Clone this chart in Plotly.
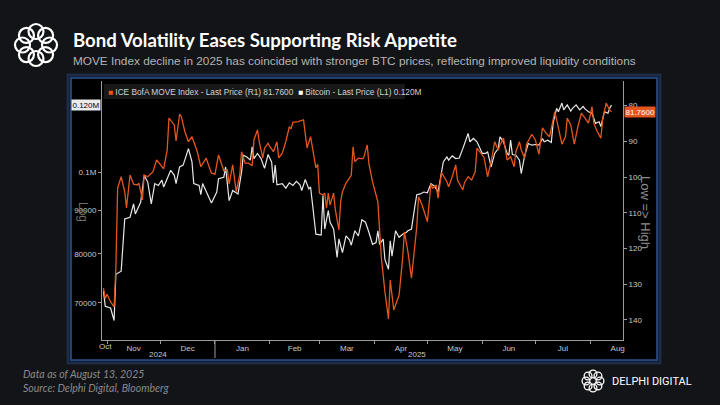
import math
import plotly.graph_objects as go

# ---------------- data ----------------
btc_dates = [
    "2024-10-30", "2024-10-31", "2024-11-03", "2024-11-05", "2024-11-06", "2024-11-09", "2024-11-11",
    "2024-11-14", "2024-11-16", "2024-11-17", "2024-11-20", "2024-11-22", "2024-11-24", "2024-11-26",
    "2024-11-28", "2024-11-30", "2024-12-02", "2024-12-03", "2024-12-07", "2024-12-09", "2024-12-10",
    "2024-12-12", "2024-12-14", "2024-12-17", "2024-12-19", "2024-12-20", "2024-12-23", "2024-12-24",
    "2024-12-25", "2024-12-27", "2024-12-30", "2025-01-02", "2025-01-03", "2025-01-06", "2025-01-07",
    "2025-01-09", "2025-01-11", "2025-01-14", "2025-01-16", "2025-01-17", "2025-01-19", "2025-01-21",
    "2025-01-22", "2025-01-23", "2025-01-25", "2025-01-27", "2025-01-29", "2025-01-31", "2025-02-02",
    "2025-02-03", "2025-02-04", "2025-02-05", "2025-02-08", "2025-02-10", "2025-02-12", "2025-02-14",
    "2025-02-16", "2025-02-18", "2025-02-19", "2025-02-21", "2025-02-23", "2025-02-24", "2025-02-26",
    "2025-02-27", "2025-03-02", "2025-03-03", "2025-03-04", "2025-03-06", "2025-03-07", "2025-03-09",
    "2025-03-11", "2025-03-12", "2025-03-14", "2025-03-16", "2025-03-18", "2025-03-19", "2025-03-21",
    "2025-03-23", "2025-03-25", "2025-03-27", "2025-03-29", "2025-03-31", "2025-04-02", "2025-04-03",
    "2025-04-04", "2025-04-06", "2025-04-07", "2025-04-09", "2025-04-10", "2025-04-11", "2025-04-13",
    "2025-04-15", "2025-04-17", "2025-04-19", "2025-04-20", "2025-04-22", "2025-04-24", "2025-04-25",
    "2025-04-27", "2025-04-29", "2025-05-01", "2025-05-03", "2025-05-05", "2025-05-07", "2025-05-10",
    "2025-05-12", "2025-05-13", "2025-05-15", "2025-05-17", "2025-05-19", "2025-05-21", "2025-05-24",
    "2025-05-25", "2025-05-27", "2025-05-29", "2025-05-31", "2025-06-01", "2025-06-03", "2025-06-04",
    "2025-06-06", "2025-06-08", "2025-06-10", "2025-06-11", "2025-06-13", "2025-06-15", "2025-06-16",
    "2025-06-17", "2025-06-18", "2025-06-20", "2025-06-22", "2025-06-23", "2025-06-25", "2025-06-27",
    "2025-06-29", "2025-07-01", "2025-07-03", "2025-07-05", "2025-07-06", "2025-07-08", "2025-07-10",
    "2025-07-11", "2025-07-13", "2025-07-14", "2025-07-16", "2025-07-17", "2025-07-19", "2025-07-21",
    "2025-07-22", "2025-07-24", "2025-07-26", "2025-07-28", "2025-07-29", "2025-07-31", "2025-08-02",
    "2025-08-04", "2025-08-06", "2025-08-07", "2025-08-09", "2025-08-11", "2025-08-12", "2025-08-13",
]
btc_price = [
    72250, 69350, 69000, 66700, 75650, 76300, 88000,
    88400, 91700, 89200, 92100, 99100, 97300, 91700,
    96900, 96400, 97800, 96000, 100500, 99100, 96900,
    101400, 101900, 106600, 102800, 96900, 96400, 94000,
    96900, 94700, 91900, 94700, 98200, 98600, 101400,
    92500, 95100, 94200, 100000, 104700, 104200, 103300,
    107100, 103750, 105200, 103750, 101000, 104900, 102800,
    97100, 101900, 96600, 96900, 95700, 97100, 96400,
    97500, 96600, 95100, 98000, 95500, 96000, 88000,
    84400, 84200, 93800, 85600, 90000, 87200, 85600,
    79200, 83300, 80250, 84000, 83100, 81900, 85200,
    84000, 87800, 87200, 84800, 82100, 82500, 85200,
    82100, 83300, 78800, 76700, 82900, 79500, 85200,
    83700, 84400, 84800, 85200, 85600, 91300, 94000,
    94200, 94700, 94500, 96900, 96200, 94700, 102800,
    104200, 103300, 104500, 103750, 103900, 106600, 111100,
    108600, 109600, 108600, 106100, 105200, 105200, 105700,
    101400, 105200, 106600, 110100, 108600, 105200, 104700,
    109100, 104900, 104700, 103300, 99600, 104700, 108100,
    107600, 107800, 107600, 109600, 108600, 109100, 108400,
    114200, 119000, 117900, 120700, 118500, 120100, 118100,
    119000, 120100, 118500, 119600, 118800, 117900, 117400,
    114200, 114700, 113200, 117900, 117400, 119000, 120100,
]

move_dates = [
    "2024-10-30", "2024-10-31", "2024-11-01", "2024-11-03", "2024-11-05", "2024-11-06", "2024-11-07",
    "2024-11-09", "2024-11-11", "2024-11-12", "2024-11-14", "2024-11-16", "2024-11-18", "2024-11-19",
    "2024-11-21", "2024-11-22", "2024-11-24", "2024-11-27", "2024-11-29", "2024-12-01", "2024-12-03",
    "2024-12-05", "2024-12-06", "2024-12-09", "2024-12-10", "2024-12-12", "2024-12-13", "2024-12-15",
    "2024-12-17", "2024-12-19", "2024-12-22", "2024-12-24", "2024-12-27", "2024-12-30", "2025-01-01",
    "2025-01-03", "2025-01-06", "2025-01-08", "2025-01-09", "2025-01-11", "2025-01-13", "2025-01-15",
    "2025-01-16", "2025-01-18", "2025-01-20", "2025-01-22", "2025-01-23", "2025-01-25", "2025-01-26",
    "2025-01-28", "2025-01-29", "2025-01-31", "2025-02-01", "2025-02-03", "2025-02-05", "2025-02-06",
    "2025-02-08", "2025-02-10", "2025-02-12", "2025-02-13", "2025-02-14", "2025-02-17", "2025-02-20",
    "2025-02-22", "2025-02-24", "2025-02-27", "2025-02-28", "2025-03-01", "2025-03-03", "2025-03-04",
    "2025-03-05", "2025-03-06", "2025-03-07", "2025-03-09", "2025-03-10", "2025-03-12", "2025-03-13",
    "2025-03-14", "2025-03-16", "2025-03-18", "2025-03-19", "2025-03-20", "2025-03-21", "2025-03-23",
    "2025-03-25", "2025-03-26", "2025-03-28", "2025-03-29", "2025-03-31", "2025-04-03", "2025-04-04",
    "2025-04-05", "2025-04-07", "2025-04-09", "2025-04-10", "2025-04-12", "2025-04-15", "2025-04-17",
    "2025-04-18", "2025-04-20", "2025-04-22", "2025-04-24", "2025-04-25", "2025-04-26", "2025-04-28",
    "2025-05-01", "2025-05-03", "2025-05-04", "2025-05-06", "2025-05-07", "2025-05-09", "2025-05-12",
    "2025-05-13", "2025-05-15", "2025-05-17", "2025-05-18", "2025-05-21", "2025-05-22", "2025-05-24",
    "2025-05-26", "2025-05-28", "2025-05-29", "2025-05-31", "2025-06-02", "2025-06-04", "2025-06-06",
    "2025-06-08", "2025-06-10", "2025-06-11", "2025-06-13", "2025-06-15", "2025-06-17", "2025-06-19",
    "2025-06-20", "2025-06-22", "2025-06-23", "2025-06-25", "2025-06-26", "2025-06-29", "2025-07-01",
    "2025-07-03", "2025-07-05", "2025-07-07", "2025-07-09", "2025-07-12", "2025-07-14", "2025-07-16",
    "2025-07-18", "2025-07-19", "2025-07-21", "2025-07-23", "2025-07-25", "2025-07-27", "2025-07-29",
    "2025-07-31", "2025-08-02", "2025-08-03", "2025-08-05", "2025-08-07", "2025-08-08", "2025-08-10",
    "2025-08-12", "2025-08-13",
]
move_index = [
    131.1, 134.0, 132.8, 134.9, 136.3, 125.5, 103.1,
    99.9, 104.1, 108.6, 99.4, 102.0, 102.2, 101.7,
    106.4, 99.4, 99.9, 98.5, 95.2, 96.6, 97.7,
    92.4, 83.5, 85.4, 89.9, 82.4, 83.1, 87.3,
    90.1, 88.7, 92.9, 97.1, 94.7, 98.9, 99.2,
    93.8, 98.3, 98.0, 102.0, 96.6, 104.1, 99.4,
    92.9, 96.1, 96.1, 96.8, 89.6, 86.8, 90.1,
    94.7, 91.9, 90.5, 91.5, 92.9, 90.1, 94.6,
    93.3, 90.1, 85.9, 86.5, 84.7, 84.5, 84.0,
    91.8, 88.7, 97.4, 96.4, 104.5, 105.0, 104.5,
    108.7, 104.5, 107.8, 104.5, 109.2, 114.8, 106.9,
    104.1, 101.7, 100.3, 99.4, 91.5, 95.7, 94.7,
    94.9, 94.6, 91.0, 96.4, 101.3, 106.9, 116.2,
    122.7, 132.1, 139.7, 128.8, 137.2, 133.0, 122.7,
    115.3, 120.9, 128.3, 118.1, 113.9, 105.5, 107.8,
    112.5, 102.0, 103.1, 102.2, 105.9, 98.7, 101.3,
    102.7, 99.9, 96.6, 100.8, 103.6, 101.5, 99.9,
    100.8, 98.5, 91.9, 93.3, 94.5, 99.9, 95.7,
    90.1, 92.4, 91.0, 89.1, 95.2, 94.3, 97.1,
    92.9, 90.1, 92.4, 94.7, 90.8, 88.0, 89.6,
    93.6, 86.2, 87.7, 88.7, 81.7, 86.8, 90.8,
    88.7, 83.5, 85.4, 90.8, 85.9, 82.1, 83.5,
    84.9, 80.3, 84.9, 87.3, 89.1, 84.0, 79.3,
    81.2, 81.76,
]

left_tick_vals = [70000, 80000, 90000, 100000]
left_tick_text = ["70000", "80000", "90000", "0.1M"]
right_tick_vals = [80, 90, 100, 110, 120, 130, 140]
year_labels = ["2024", "2025"]
year_label_dates = ["2024-11-30", "2025-04-25"]

move_name = "ICE BofA MOVE Index - Last Price (R1)"
btc_name = "Bitcoin - Last Price (L1)"

ORANGE = "#e4561d"
WHITE = "#e8e8e8"
AXIS = "#9c9c9c"
TICKTXT = "#c8c8c8"
BG = "#131417"
NARROW = "Liberation Sans Narrow, Liberation Sans, Arial"

# ---------------- layout geometry helpers (pixels -> paper) ----------------
W, H = 720, 405
ML, MR, MT, MB = 102, 97, 81, 65
PW, PH = W - ML - MR, H - MT - MB


def px(x):
    return (x - ML) / PW


def py(y):
    return (H - MB - y) / PH


fig = go.Figure()

fig.add_trace(go.Scatter(
    x=move_dates, y=move_index, name=move_name, mode="lines",
    line=dict(color=ORANGE, width=1.3), yaxis="y2", showlegend=False,
))
fig.add_trace(go.Scatter(
    x=btc_dates, y=btc_price, name=btc_name, mode="lines",
    line=dict(color=WHITE, width=1.2), yaxis="y", showlegend=False,
))

shapes = []
# chart panel with blue glowing frame
shapes.append(dict(type="rect", xref="paper", yref="paper", layer="below",
                   x0=px(69), x1=px(659), y0=py(362), y1=py(76),
                   line=dict(color="rgba(50,90,160,0.35)", width=5), fillcolor="black"))
shapes.append(dict(type="rect", xref="paper", yref="paper", layer="below",
                   x0=px(71), x1=px(657), y0=py(360), y1=py(78),
                   line=dict(color="#2c5290", width=1.5), fillcolor="black"))
# legend backdrop
shapes.append(dict(type="rect", xref="paper", yref="paper", layer="below",
                   x0=px(104), x1=px(405), y0=py(99), y1=py(84),
                   line=dict(width=0), fillcolor="#181818"))
# year divider on the time axis
shapes.append(dict(type="line", xref="x", yref="paper", x0="2025-01-01", x1="2025-01-01",
                   y0=0, y1=py(358), line=dict(color=AXIS, width=1)))


def logo(cx, cy, dist, r, lw):
    out = []
    n = 8
    for k in range(n):
        a = 2 * math.pi * k / n
        dx, dy = dist * math.cos(a), dist * math.sin(a)
        out.append(dict(type="circle", xref="paper", yref="paper",
                        xsizemode="pixel", ysizemode="pixel",
                        xanchor=px(cx), yanchor=py(cy),
                        x0=dx - r, x1=dx + r, y0=dy - r, y1=dy + r,
                        line=dict(color="white", width=lw)))
    return out


shapes += logo(36, 45, 13.5, 7.5, 2.2)
shapes += logo(593, 381, 7, 3.9, 1.3)

annotations = []
annotations.append(dict(text="<b>Bond Volatility Eases Supporting Risk Appetite</b>",
                        xref="paper", yref="paper", x=px(71), y=py(40),
                        xanchor="left", yanchor="middle", showarrow=False,
                        font=dict(family="Lato, Open Sans, sans-serif", size=18.6, color="white")))
annotations.append(dict(text="MOVE Index decline in 2025 has coincided with stronger BTC prices, "
                             "reflecting improved liquidity conditions",
                        xref="paper", yref="paper", x=px(71), y=py(61),
                        xanchor="left", yanchor="middle", showarrow=False,
                        font=dict(family="Liberation Sans, Arial", size=11.8, color="#b4b4b4")))
annotations.append(dict(text="<i>Data as of August 13, 2025</i>",
                        xref="paper", yref="paper", x=px(21), y=py(374),
                        xanchor="left", yanchor="middle", showarrow=False,
                        font=dict(family="Lato, sans-serif", size=10.5, color="#8a8a8a")))
annotations.append(dict(text="<i>Source: Delphi Digital, Bloomberg</i>",
                        xref="paper", yref="paper", x=px(21), y=py(388),
                        xanchor="left", yanchor="middle", showarrow=False,
                        font=dict(family="Lato, sans-serif", size=10.5, color="#8a8a8a")))
annotations.append(dict(text="DELPHI DIGITAL",
                        xref="paper", yref="paper", x=px(610), y=py(381),
                        xanchor="left", yanchor="middle", showarrow=False,
                        font=dict(family="Roboto, sans-serif", size=11, color="white")))

# legend line (Bloomberg style) with last values from the data
last_move = move_index[-1]
last_btc = btc_price[-1]
legend_txt = (f"<span style='color:{ORANGE}'>■</span> {move_name} {last_move:.4f}  "
              f"<span style='color:white'>■</span> {btc_name} {last_btc / 1e6:.3f}M")
annotations.append(dict(text=legend_txt, xref="paper", yref="paper", x=px(106), y=py(91.5),
                        xanchor="left", yanchor="middle", showarrow=False,
                        font=dict(family=NARROW, size=8.3, color="#d2d2d2")))

# last-value tags on both axes
annotations.append(dict(text=f"{last_btc / 1e6:.3f}M", xref="paper", yref="y",
                        x=0, y=math.log10(last_btc), xanchor="right", yanchor="middle",
                        xshift=-1, showarrow=False, bgcolor="#ececec", borderpad=0.5,
                        font=dict(family=NARROW, size=8, color="black")))
annotations.append(dict(text=f"{last_move:.4f}", xref="paper", yref="y2",
                        x=1, y=last_move, xanchor="left", yanchor="middle",
                        xshift=1, showarrow=False, bgcolor=ORANGE, borderpad=0.5,
                        font=dict(family=NARROW, size=8, color="white")))

# axis titles
annotations.append(dict(text="Log", xref="paper", yref="paper", x=px(83), y=py(212),
                        textangle=90, showarrow=False, xanchor="center", yanchor="middle",
                        font=dict(family="Liberation Sans, Arial", size=12, color="#6e6e6e")))
annotations.append(dict(text="Low => High", xref="paper", yref="paper", x=px(646), y=py(212),
                        textangle=90, showarrow=False, xanchor="center", yanchor="middle",
                        font=dict(family="Liberation Sans, Arial", size=13, color="#8c8c8c")))

# month label for the partial October period and year labels
annotations.append(dict(text="Oct", xref="x", yref="paper", x="2024-10-31", y=py(346),
                        showarrow=False, xanchor="center", yanchor="middle",
                        font=dict(family=NARROW, size=8, color=TICKTXT)))
for lab, d in zip(year_labels, year_label_dates):
    annotations.append(dict(text=lab, xref="x", yref="paper", x=d, y=py(354.5),
                            showarrow=False, xanchor="center", yanchor="middle",
                            font=dict(family=NARROW, size=8, color=TICKTXT)))

fig.update_layout(
    width=W, height=H,
    margin=dict(l=ML, r=MR, t=MT, b=MB, pad=0),
    paper_bgcolor=BG, plot_bgcolor="rgba(0,0,0,0)",
    showlegend=False,
    shapes=shapes, annotations=annotations,
    xaxis=dict(
        type="date", range=["2024-10-29 04:00", "2025-08-19 12:00"],
        showgrid=False, zeroline=False, showline=True, linecolor=AXIS, linewidth=1,
        ticks="outside", ticklen=3, tickcolor=AXIS,
        dtick="M1", tick0="2024-11-01", tickformat="%b", ticklabelmode="period",
        ticklabelstandoff=-3,
        tickfont=dict(family=NARROW, size=8, color=TICKTXT),
    ),
    yaxis=dict(
        type="log", range=[math.log10(63240), math.log10(128200)],
        tickvals=left_tick_vals, ticktext=left_tick_text,
        showgrid=False, zeroline=False, showline=True, linecolor=AXIS, linewidth=1,
        ticks="outside", ticklen=3, tickcolor=AXIS,
        tickfont=dict(family=NARROW, size=8, color=TICKTXT),
    ),
    yaxis2=dict(
        overlaying="y", side="right", range=[145.6, 73.1],
        tickvals=right_tick_vals,
        showgrid=False, zeroline=False, showline=True, linecolor=AXIS, linewidth=1,
        ticks="outside", ticklen=3, tickcolor=AXIS,
        tickfont=dict(family=NARROW, size=8, color=TICKTXT),
    ),
)

fig.write_html(
    "out.html",
    config={"displayModeBar": False},
    post_script="document.body.style.margin='0';document.body.style.background='" + BG + "';",
)
